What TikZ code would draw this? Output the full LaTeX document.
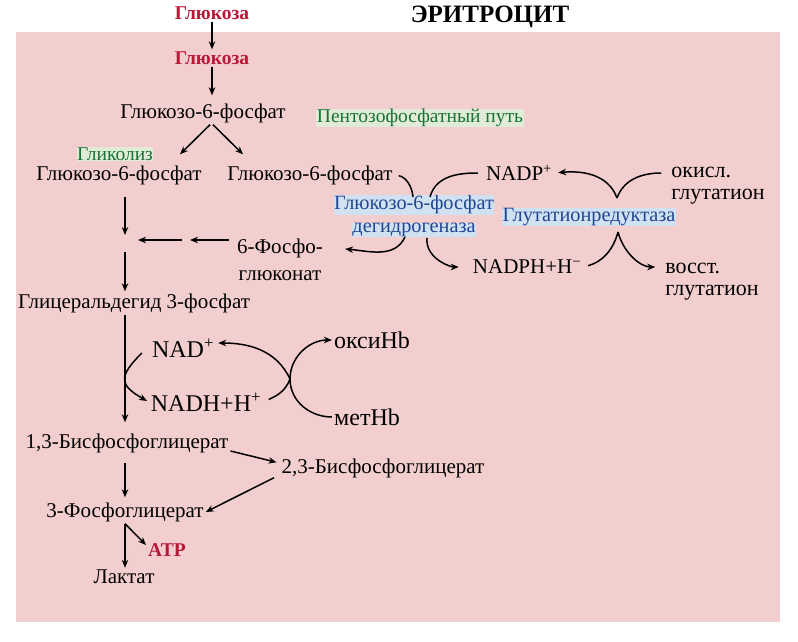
\documentclass[tikz,border=0pt]{standalone}
\usepackage{fontspec}
\setmainfont{Liberation Serif}
\usepackage{tikz}
\usetikzlibrary{arrows.meta,calc}
\definecolor{cellpink}{RGB}{243,206,206}
\definecolor{sugarred}{RGB}{185,25,55}
\definecolor{pathgreen}{RGB}{25,115,55}
\definecolor{pathfill}{RGB}{224,236,216}
\definecolor{enzblue}{RGB}{35,70,145}
\definecolor{enzfill}{RGB}{208,226,242}
\tikzstyle{chem} = [inner sep=2pt, font=\fontsize{21}{25}\selectfont]
\tikzstyle{bigchem} = [inner sep=2pt, font=\fontsize{24}{28}\selectfont]
\tikzstyle{sugar} = [chem, text=sugarred, font=\fontsize{19.5}{23}\selectfont\bfseries]
\tikzstyle{route} = [chem, text=pathgreen, fill=pathfill, inner sep=0.5pt, font=\fontsize{19.5}{23}\selectfont]
\tikzstyle{enzyme} = [chem, text=enzblue, fill=enzfill, inner sep=0.5pt, font=\fontsize{20.3}{24}\selectfont]
\tikzstyle{arr} = [line width=1.5pt, -{Stealth[length=8pt,width=6.5pt]}]
\tikzstyle{link} = [line width=1.5pt]

\begin{document}
\begin{tikzpicture}[x=1pt, y=-1pt]

\fill[white] (0,0) rectangle (798,642);
\useasboundingbox (0,0) rectangle (798,642);
\fill[cellpink] (16,32) rectangle (780,622);

\node[font=\fontsize{25}{30}\selectfont\bfseries] (title) at (490,17) {ЭРИТРОЦИТ};
\node[sugar] (glc0) at (212,13) {Глюкоза};
\node[sugar] (glc1) at (212,58) {Глюкоза};
\node[sugar] (atp) at (167,550) {ATP};
\node[route] (ppp) at (420,118) {Пентозофосфатный путь};
\node[route] (glyc) at (115,154) {Гликолиз};
\node[enzyme] (g6pd) at (414,205) {Глюкозо-6-фосфат};
\node[enzyme] (g6pdb) at (414,230) {дегидрогеназа};
\node[enzyme] (gr) at (589,217) {Глутатионредуктаза};
    	%metabolites
\foreach \x/\y/\name/\txt in {203/113/g6p/Глюкозо-6-фосфат, 119/175/g6pL/Глюкозо-6-фосфат,
	310/175/g6pR/Глюкозо-6-фосфат, 519/173/nadp/NADP\textsuperscript{+},
	527/267/nadph/NADPH+H\textsuperscript{−}, 134/303/ga3p/Глицеральдегид 3-фосфат,
	127/443/bpg13/{1,3-Бисфосфоглицерат}, 383/468/bpg23/{2,3-Бисфосфоглицерат},
	125/512/pga3/3-Фосфоглицерат, 124/577/lac/Лактат}
	\node[chem] (\name) at (\x,\y) {\txt};
\foreach \x/\y/\name/\txt in {183/348/nad/NAD\textsuperscript{+}, 206/402/nadh/NADH+H\textsuperscript{+},
	372/340/oxyhb/оксиHb, 367/417/methb/метHb}
	\node[bigchem] (\name) at (\x,\y) {\txt};
\node[chem, align=center, font=\fontsize{21}{27}\selectfont] (pg) at (280,260) {6-Фосфо-\\глюконат};
\node[chem, align=left, font=\fontsize{22}{22}\selectfont] (gssg) at (718,186) {окисл.\\глутатион};
\node[chem, align=left, font=\fontsize{22}{22}\selectfont] (gsh) at (712,282) {восст.\\глутатион};

\coordinate (join) at (125,240);
\coordinate (mid) at (186,240);
\coordinate (hbmid) at (290,379);
\coordinate (gdNW) at ($(g6pd)+(-1,-8)$);
\coordinate (gdNE) at ($(g6pd)+(16,-8)$);
\coordinate (gdSW) at ($(g6pdb)+(-9,7)$);
\coordinate (gdSE) at ($(g6pdb)+(13,8)$);
\coordinate (grtop) at ($(gr)+(28,-19)$);
\coordinate (grbot) at ($(gr)+(29,15)$);

    	%glycolysis
\draw[arr] (glc0) -- (glc1);
\draw[arr, shorten >=6pt] (glc1) -- (glc1 |- g6p.north);
\draw[arr] ([xshift=7pt]g6p.south) -- ([xshift=61pt,yshift=9pt]g6pL.north);
\draw[arr] ([xshift=10pt]g6p.south) -- ([xshift=-67pt,yshift=9pt]g6pR.north);
\draw[arr, shorten <=10pt, shorten >=5pt] (g6pL.south -| join) -- (join);
\draw[arr, shorten <=12pt] (join) -- (join |- ga3p.north);
\draw[arr, shorten <=6pt, shorten >=4pt] (pg.west |- join) -- (mid);
\draw[arr, shorten <=4pt, shorten >=13pt] (mid) -- (join);
\draw[arr, shorten >=9pt] (join |- ga3p.south) -- (join |- bpg13.north);
\draw[arr, shorten <=8pt, shorten >=3pt] (join |- bpg13.south) -- (join |- pga3.north);
\draw[arr] (pga3.south -| join) -- (lac.north -| join);
\draw[arr] (pga3.south -| join) -- ([yshift=5pt]atp.west);
\draw[arr, shorten >=3pt] ([yshift=-8pt]bpg13.east) -- ([yshift=5pt]bpg23.west);
\draw[arr, shorten <=6pt] ([yshift=-7pt]bpg23.west) -- (pga3.east);

    	%NAD and Hb
\draw[arr, shorten >=2pt] ([shift={(-8pt,-5pt)}]nad.west) to[out=-135, in=150, looseness=1.75] (nadh.west);
\draw[link, shorten <=6pt] (nadh.east) to[out=25, in=-110] (hbmid);
\draw[arr, shorten >=2pt] (hbmid) to[out=115, in=0] ([yshift=5pt]nad.east);
\draw[arr] (methb.west) to[out=180, in=-90] (hbmid) to[out=90, in=180] (oxyhb.west);

    	%pentose phosphate
\draw[link, shorten <=4pt] (g6pR.east) to[out=-10, in=95] (gdNW);
\draw[link, shorten <=6pt] (nadp.west) to[out=180, in=75] (gdNE);
\draw[arr] (gdSW) to[out=-115, in=-5] ([xshift=20pt,yshift=11pt]pg.east);
\draw[arr, shorten >=12pt] (gdSE) to[out=-95, in=180] (nadph.west);
\draw[arr, shorten >=4pt] (grtop) to[out=110, in=5] (nadp.east);
\draw[link, shorten <=8pt] ([yshift=13pt]gssg.west) to[out=180, in=70] (grtop);
\draw[link, shorten <=5pt] (nadph.east) to[out=15, in=-105] (grbot);
\draw[arr, shorten >=8pt] (grbot) to[out=-75, in=180] ([yshift=15pt]gsh.west);

\end{tikzpicture}
\end{document}
